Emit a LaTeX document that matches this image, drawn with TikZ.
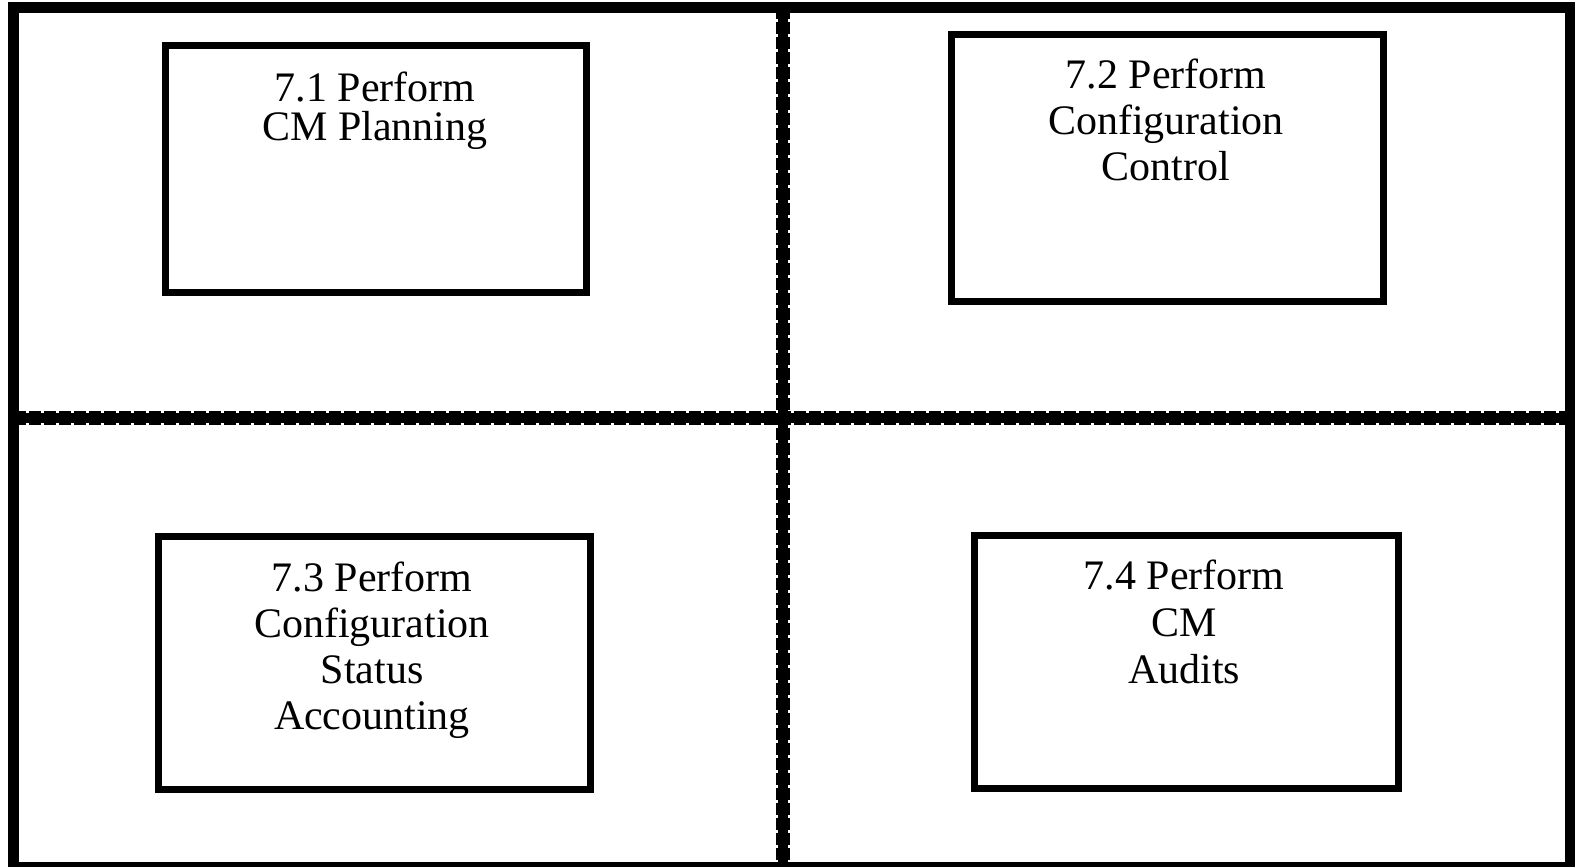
\documentclass[tikz,border=0pt]{standalone}
\usepackage{fontspec}
\setmainfont{Liberation Serif}
\begin{document}
\begin{tikzpicture}[x=1pt,y=-1pt,
  procbox/.style={draw=black,line width=7pt,inner sep=0pt,fill=white},
  lbl/.style={align=center,inner sep=0pt,anchor=base},
  divider/.style={line width=14pt,dash pattern=on 12pt off 3pt},
  dividercore/.style={line width=10pt}]
\useasboundingbox (0,0) rectangle (1575,867);
\fill[white] (0,0) rectangle (1575,867);
% dividers
\coordinate (vtop) at (782.5,7.5);
\coordinate (vbot) at (782.5,867);
\coordinate (hl) at (13.5,418);
\coordinate (hr) at (1570.5,418);
\draw[divider] (vtop) -- (vbot);
\draw[divider] (hl) -- (hr);
\draw[dividercore] (vtop) -- (vbot);
\draw[dividercore] (hl) -- (hr);
% outer frame
\draw[line width=11pt] (13.5,7.5) rectangle (1570.5,867.5);
% boxes
\node[procbox,minimum width=420.5pt,minimum height=246.5pt] (b1) at (375.75,168.75) {};
\node[procbox,minimum width=432pt,minimum height=267pt] (b2) at (1167.5,168) {};
\node[procbox,minimum width=432pt,minimum height=252.4pt] (b3) at (374.5,663) {};
\node[procbox,minimum width=424pt,minimum height=253.5pt] (b4) at (1186.5,661.75) {};
% labels (anchor base = last line's baseline)
\node[lbl,font=\fontsize{42}{39.5}\selectfont] (t1) at (375,140.5) {7.1 Perform\\CM Planning};
\node[lbl,font=\fontsize{42}{46}\selectfont] (t2) at (1166,180) {7.2 Perform\\Configuration\\Control};
\node[lbl,font=\fontsize{42}{46}\selectfont] (t3) at (372,729) {7.3 Perform\\Configuration\\Status\\Accounting};
\node[lbl,font=\fontsize{42}{47}\selectfont] (t4) at (1184,683) {7.4 Perform\\CM\\Audits};
\end{tikzpicture}
\end{document}
